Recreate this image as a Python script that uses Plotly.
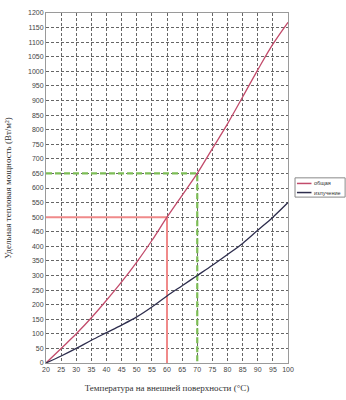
import plotly.graph_objects as go

temps = [20, 25, 30, 35, 40, 45, 50, 55, 60, 65, 70, 75, 80, 85, 90, 95, 100]
total = [0, 50, 100, 155, 215, 278, 346, 420, 500, 575, 650, 735, 820, 912, 1005, 1093, 1168]
radiation = [0, 24, 50, 78, 104, 130, 158, 192, 230, 265, 300, 335, 372, 410, 455, 500, 550]

series_names = ["общая", "излучение"]
series_colors = ["#c24b6b", "#2e2e4e"]

ref_red = (60, 500)
ref_green = (70, 650)

x_min, x_max = 20, 100
y_min, y_max = 0, 1200

fig = go.Figure()

# reference lines
fig.add_trace(go.Scatter(x=[x_min, ref_red[0], ref_red[0]], y=[ref_red[1], ref_red[1], y_min],
                         mode="lines", line=dict(color="#f08a8a", width=2), showlegend=False, hoverinfo="skip"))
fig.add_trace(go.Scatter(x=[x_min, ref_green[0], ref_green[0]], y=[ref_green[1], ref_green[1], y_min],
                         mode="lines", line=dict(color="#7cbd55", width=2.2, dash="6px,3px"), showlegend=False, hoverinfo="skip"))

for name, ys, col in zip(series_names, [total, radiation], series_colors):
    fig.add_trace(go.Scatter(x=temps, y=ys, mode="lines", name=name, showlegend=False,
                             line=dict(color=col, width=1.3, shape="spline")))

grid = dict(showgrid=True, gridcolor="#666666", griddash="3px,2px", gridwidth=0.7,
            showline=True, linecolor="#9a9a9a", linewidth=1, mirror=True, automargin=False,
            zeroline=False, ticks="", tickfont=dict(family="Liberation Sans Narrow, Liberation Sans, Arial", size=7, color="#444444"))

fig.update_xaxes(range=[x_min, x_max], tickmode="linear", tick0=20, dtick=5,
                 title=dict(text="Температура на внешней поверхности (°C)",
                            font=dict(family="Liberation Serif", size=9, color="#333333"), standoff=12),
                 **grid)
fig.update_yaxes(range=[y_min, y_max], tickmode="linear", tick0=0, dtick=50,
                 title=dict(text="Удельная тепловая мощность (Вт/м²)",
                            font=dict(family="Liberation Serif", size=9, color="#333333"), standoff=14),
                 **grid)

# manual compact legend (outside plot, in paper coords)
lx0, lx1, ly0, ly1 = 1.029, 1.236, 0.474, 0.529
entry_y = [0.513, 0.487]
shapes = [dict(type="rect", xref="paper", yref="paper", x0=lx0, x1=lx1, y0=ly0, y1=ly1,
               line=dict(color="#888888", width=1), fillcolor="white")]
annotations = []
for name, col, yy in zip(series_names, series_colors, entry_y):
    shapes.append(dict(type="line", xref="paper", yref="paper", x0=1.037, x1=1.097,
                       y0=yy, y1=yy, line=dict(color=col, width=1.5)))
    annotations.append(dict(xref="paper", yref="paper", x=1.099, y=yy, text=name, showarrow=False,
                            xanchor="left", yanchor="middle",
                            font=dict(family="Liberation Sans Narrow, Liberation Sans", size=5.5, color="#333333")))

fig.update_layout(
    width=346, height=400,
    margin=dict(l=46, r=58, t=13, b=37),
    paper_bgcolor="white", plot_bgcolor="white",
    showlegend=False, shapes=shapes, annotations=annotations,
)

fig.write_html("out.html", config={"displayModeBar": False},
               post_script="document.body.style.margin='0';document.body.style.overflow='hidden';")
